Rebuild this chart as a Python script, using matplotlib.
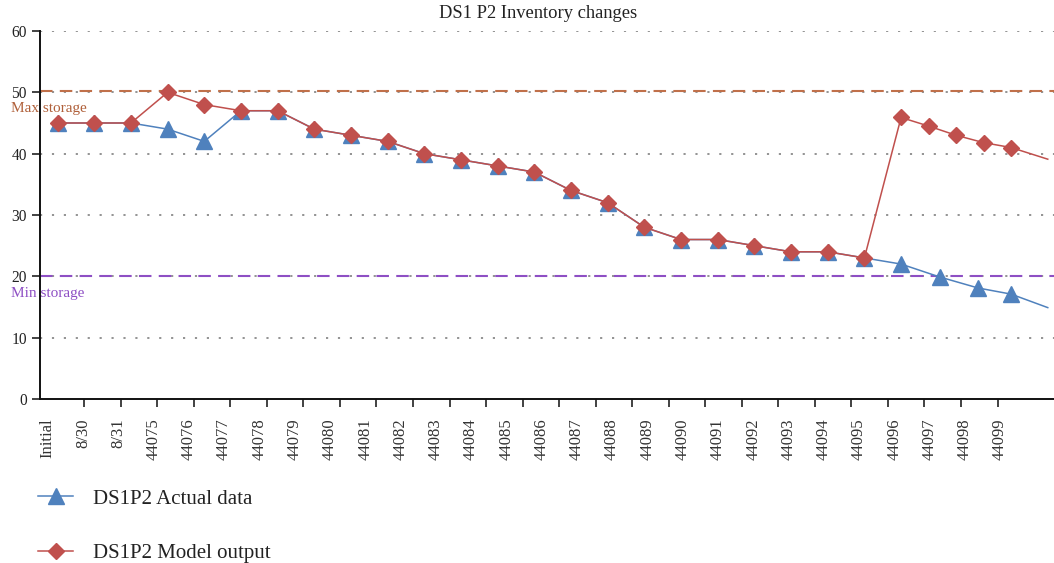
import matplotlib.pyplot as plt
from matplotlib.lines import Line2D
import numpy as np

plt.rcParams["font.family"] = ["Liberation Serif", "DejaVu Serif"]

labels = ["Initial", "8/30", "8/31"] + [str(d) for d in range(44075, 44100)]

# x positions (category units) and values
actual_x = list(range(0, 23)) + [23, 24.05, 25.1, 26, 27]
actual_y = [45, 45, 45, 44, 42, 47, 47, 44, 43, 42, 40, 39, 38, 37, 34, 32,
            28, 26, 26, 25, 24, 24, 23, 22, 19.9, 18.1, 17.1, 14.9]
model_x = list(range(0, 23)) + [23, 23.75, 24.5, 25.25, 26, 27]
model_y = [45, 45, 45, 50, 48, 47, 47, 44, 43, 42, 40, 39, 38, 37, 34, 32,
           28, 26, 26, 25, 24, 24, 23, 45.9, 44.5, 43.0, 41.8, 41.0, 39.1]
max_storage = 50.2
min_storage = 20

blue = "#4f81bd"
red = "#c0504d"

fig = plt.figure(figsize=(10.54, 5.63), dpi=100)
ax = fig.add_axes([40 / 1054, 1 - 399 / 563, 1 - 40 / 1054, (399 - 31) / 563])

for y in range(10, 70, 10):
    ax.axhline(y, color="#8a8a8a", lw=1.3, ls=(0, (1.2, 5.4)), zorder=1)

ax.axhline(max_storage, color="#c0704a", lw=1.5, ls=(0, (6, 3.5)), zorder=2)
ax.axhline(min_storage, color="#8e4fc4", lw=1.5, ls=(0, (6, 3.5)), zorder=2)

ax.plot(actual_x, actual_y, color=blue, lw=1.1, marker="^", ms=11.5,
        markevery=list(range(len(actual_x) - 1)), zorder=3)
ax.plot(model_x, model_y, color=red, lw=1.1, marker="D", ms=8.5,
        markevery=list(range(len(model_x) - 1)), zorder=4)

ax.set_xlim(-0.48, 27.17)
ax.set_ylim(0, 60)
ax.set_yticks(range(0, 70, 10))
ax.tick_params(axis="y", length=6, width=1.2, labelsize=11.2, colors="#222222")

label_pos = np.linspace(-0.27, 25.7, len(labels))
tick_pos = np.linspace(-0.27, 25.63, 27)
ax.set_xticks(label_pos, labels, rotation=90)
ax.set_xticks(tick_pos, minor=True)
ax.tick_params(axis="x", which="major", length=0, pad=14, labelsize=12,
               colors="#333333")
ax.tick_params(axis="x", which="minor", length=6, width=1.2, color="#222222")

for s in ["top", "right"]:
    ax.spines[s].set_visible(False)
for s in ["left", "bottom"]:
    ax.spines[s].set_linewidth(1.4)
    ax.spines[s].set_color("#111111")

fig.text(538 / 1054, 1 - 14 / 563, "DS1 P2 Inventory changes", ha="center",
         va="center", fontsize=13.3, color="#222222")
fig.text(11 / 1054, 1 - 108.5 / 563, "Max storage", ha="left", va="center",
         fontsize=11, color="#b0603a")
fig.text(11 / 1054, 1 - 293 / 563, "Min storage", ha="left", va="center",
         fontsize=11, color="#8e4fc4")

handles = [
    Line2D([], [], color=blue, lw=1.1, marker="^", ms=11.5),
    Line2D([], [], color=red, lw=1.1, marker="D", ms=8.5),
]
fig.legend(handles, ["DS1P2 Actual data", "DS1P2 Model output"],
           loc="upper left", bbox_to_anchor=(38 / 1054, 1 - 489 / 563),
           frameon=False, fontsize=15, handlelength=1.68, handletextpad=0.96,
           labelspacing=1.68, borderpad=0, borderaxespad=0, labelcolor="#222222")

fig.savefig("out.png", dpi=100)
